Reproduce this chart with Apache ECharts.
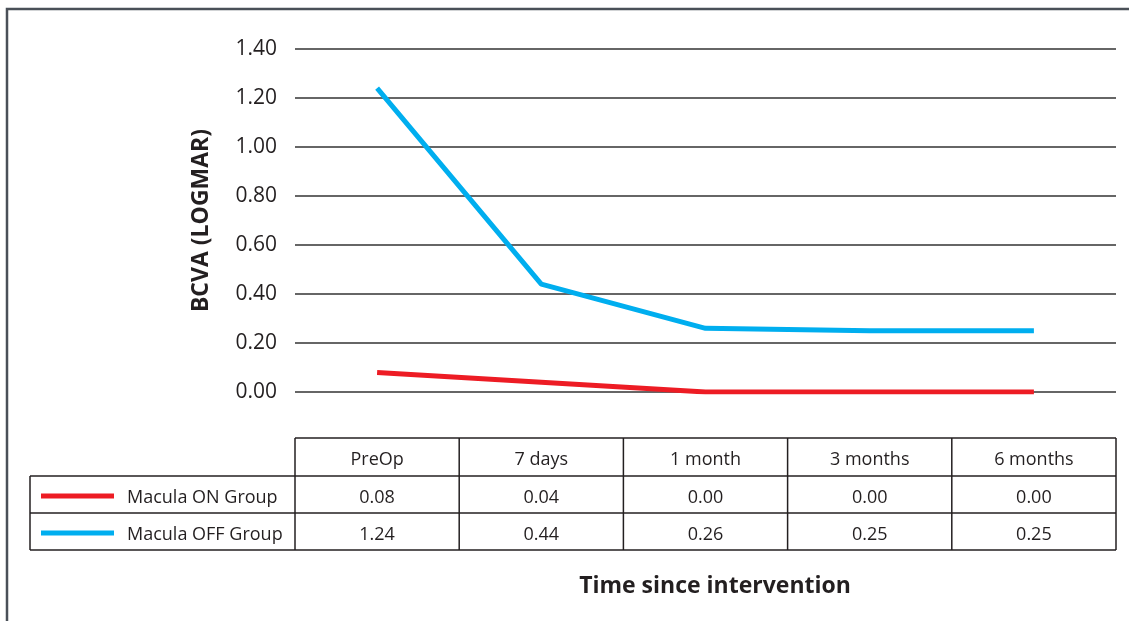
<!DOCTYPE html>
<html><head><meta charset="utf-8">
<script src="https://cdn.jsdelivr.net/npm/echarts@6/dist/echarts.min.js"></script>
<style>html,body{margin:0;padding:0;background:#fff}#c{width:1129px;height:621px}</style>
</head><body><div id="c"></div>
<script>
const categories = ['PreOp', '7 days', '1 month', '3 months', '6 months'];
const seriesNames = ['Macula ON Group', 'Macula OFF Group'];
const onValues = [0.08, 0.04, 0.00, 0.00, 0.00];
const offValues = [1.24, 0.44, 0.26, 0.25, 0.25];
const yTicks = { min: 0, max: 1.4, interval: 0.2 };
const colors = ['#ed1c24', '#00aeef'];
const FONT = 'Open Sans';

const chart = echarts.init(document.getElementById('c'), null, { renderer: 'canvas' });
const gridL = 295, gridR = 13, gridT = 49, gridB = 229;
chart.setOption({
  animation: false,
  textStyle: { fontFamily: FONT },
  grid: { left: gridL, right: gridR, top: gridT, bottom: gridB, containLabel: false },
  xAxis: {
    type: 'category', data: categories, boundaryGap: true,
    axisLine: { show: false }, axisTick: { show: false }, axisLabel: { show: false }, splitLine: { show: false }
  },
  yAxis: {
    type: 'value', min: yTicks.min, max: yTicks.max, interval: yTicks.interval,
    name: 'BCVA (LOGMAR)', nameLocation: 'middle', nameGap: 82, nameRotate: 90,
    nameTextStyle: { fontFamily: FONT, fontWeight: 'bold', fontSize: 23, color: '#231f20' },
    axisLine: { show: false }, axisTick: { show: false },
    axisLabel: { formatter: v => v.toFixed(2), fontSize: 21, color: '#231f20', margin: 18, fontFamily: FONT },
    splitLine: { lineStyle: { color: '#333', width: 1.5 } }
  },
  series: [
    { name: seriesNames[0], type: 'line', data: onValues, symbol: 'none', lineStyle: { color: colors[0], width: 5 }, z: 3 },
    { name: seriesNames[1], type: 'line', data: offValues, symbol: 'none', lineStyle: { color: colors[1], width: 5 }, z: 4 }
  ]
});

// Build data table from the arrays
const centers = categories.map(c => chart.convertToPixel({ xAxisIndex: 0 }, c));
const colW = centers[1] - centers[0];
const tLeft = centers[0] - colW / 2, tRight = centers[centers.length - 1] + colW / 2;
const rowY = [438, 476, 513, 550];
const legLeft = 30;
const stroke = { stroke: '#231f20', lineWidth: 1.5 };
const els = [];
els.push({ type: 'rect', shape: { x: 7, y: 9, width: 1140, height: 640 }, style: { fill: null, stroke: '#4a5058', lineWidth: 2.5 }, silent: true });
els.push({ type: 'line', shape: { x1: tLeft, y1: rowY[0], x2: tRight, y2: rowY[0] }, style: stroke });
for (let i = 1; i < rowY.length; i++) {
  els.push({ type: 'line', shape: { x1: legLeft, y1: rowY[i], x2: tRight, y2: rowY[i] }, style: stroke });
}
els.push({ type: 'line', shape: { x1: legLeft, y1: rowY[1], x2: legLeft, y2: rowY[3] }, style: stroke });
for (let i = 0; i <= categories.length; i++) {
  const x = tLeft + i * colW;
  els.push({ type: 'line', shape: { x1: x, y1: rowY[0], x2: x, y2: rowY[3] }, style: stroke });
}
const TY = 3;
const cellText = (x, y, t) => ({ type: 'text', x, y, style: { text: t, fontFamily: FONT, fontSize: 18, fill: '#231f20', align: 'center', verticalAlign: 'middle' } });
categories.forEach((c, i) => els.push(cellText(centers[i], (rowY[0] + rowY[1]) / 2 + TY, c)));
[onValues, offValues].forEach((vals, r) => {
  const yc = (rowY[r + 1] + rowY[r + 2]) / 2;
  vals.forEach((v, i) => els.push(cellText(centers[i], yc + TY, v.toFixed(2))));
  els.push({ type: 'line', shape: { x1: 41, y1: yc + 1.5, x2: 114, y2: yc + 1.5 }, style: { stroke: colors[r], lineWidth: 5 } });
  els.push({ type: 'text', x: 127, y: yc + TY, style: { text: seriesNames[r], fontFamily: FONT, fontSize: 18, fill: '#231f20', align: 'left', verticalAlign: 'middle' } });
});
els.push({ type: 'text', x: 715, y: 586, style: { text: 'Time since intervention', fontFamily: FONT, fontWeight: 'bold', fontSize: 23, fill: '#231f20', align: 'center', verticalAlign: 'middle' } });
chart.setOption({ graphic: { elements: els } });
</script>
</body></html>
